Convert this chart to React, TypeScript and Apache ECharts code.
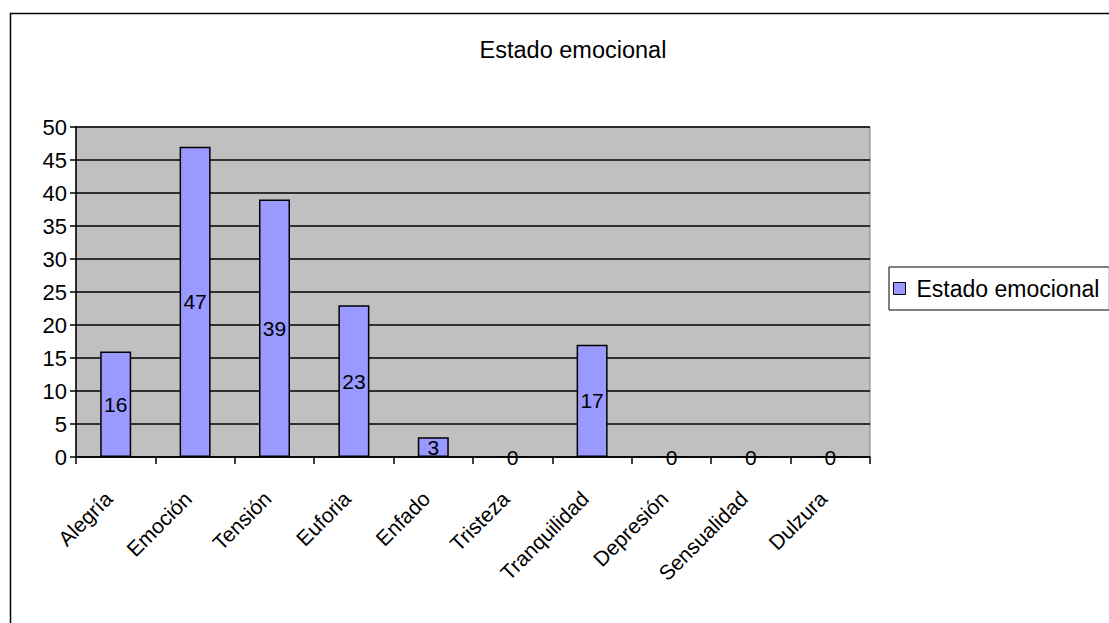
import React, { useEffect, useRef } from "react";
import * as echarts from "echarts";

const categories = ["Alegría", "Emoción", "Tensión", "Euforia", "Enfado", "Tristeza", "Tranquilidad", "Depresión", "Sensualidad", "Dulzura"];
const values = [16, 47, 39, 23, 3, 0, 17, 0, 0, 0];
const seriesName = "Estado emocional";
const titleText = "Estado emocional";

const FONT = "'Liberation Sans', Arial, sans-serif";

export default function App() {
  const ref = useRef<HTMLDivElement>(null);
  useEffect(() => {
    if (!ref.current) return;
    const chart = echarts.init(ref.current, undefined, { renderer: "svg" });
    chart.setOption({
      animation: false,
      backgroundColor: "#fff",
      title: {
        text: titleText,
        left: 568,
        top: 33,
        textAlign: "center",
        textStyle: { fontFamily: FONT, fontSize: 23.5, fontWeight: "normal", color: "#000" },
      },
      graphic: [
        {
          type: "rect",
          shape: { x: 10.5, y: 13.5, width: 1200, height: 700 },
          style: { fill: "none", stroke: "#000", lineWidth: 1.5 },
          silent: true,
        },
      ],
      legend: {
        left: 889,
        top: 267,
        orient: "vertical",
        padding: [10, 10, 10, 4],
        borderColor: "#000",
        borderWidth: 1,
        itemWidth: 12,
        itemHeight: 12,
        itemGap: 4,
        icon: "rect",
        itemStyle: { borderColor: "#000", borderWidth: 1 },
        textStyle: { fontFamily: FONT, fontSize: 23, color: "#000", padding: [0, 0, 0, 6] },
        data: [seriesName],
      },
      grid: {
        left: 76,
        top: 127,
        width: 794,
        height: 330,
        show: true,
        backgroundColor: "#C0C0C0",
        borderColor: "#808080",
        borderWidth: 1,
      },
      xAxis: {
        type: "category",
        data: categories,
        axisLine: { show: true, lineStyle: { color: "#000", width: 1.5 } },
        axisTick: { show: true, length: 7, alignWithLabel: false, lineStyle: { color: "#000", width: 1.5 } },
        axisLabel: {
          interval: 0,
          rotate: 45,
          margin: 31,
          padding: [0, 10, 0, 0],
          fontFamily: FONT,
          fontSize: 21,
          color: "#000",
        },
      },
      yAxis: {
        type: "value",
        min: 0,
        max: 50,
        interval: 5,
        axisLine: { show: true, lineStyle: { color: "#000", width: 1.5 } },
        axisTick: { show: true, length: 6, lineStyle: { color: "#000", width: 1.5 } },
        axisLabel: { fontFamily: FONT, fontSize: 22, color: "#000", margin: 9 },
        splitLine: { show: true, lineStyle: { color: "#000", width: 1.5 } },
      },
      series: [
        {
          name: seriesName,
          type: "bar",
          data: values,
          barWidth: 31,
          itemStyle: { color: "#9999FF", borderColor: "#000", borderWidth: 1.5 },
          label: {
            show: true,
            position: "inside",
            fontFamily: FONT,
            fontSize: 21,
            color: "#000",
          },
        },
      ],
    });
    return () => chart.dispose();
  }, []);
  return (
    <div
      ref={ref}
      style={{ position: "fixed", left: 0, top: 0, width: 1109, height: 623 }}
    />
  );
}
